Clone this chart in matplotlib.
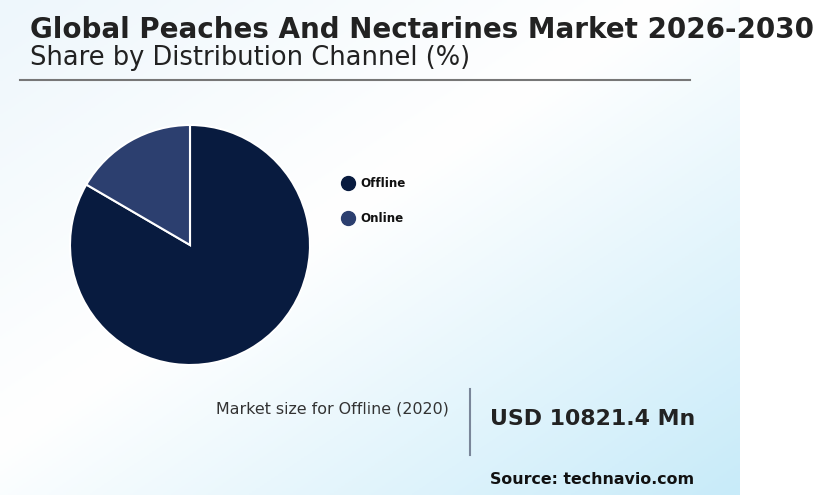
import matplotlib.pyplot as plt
import numpy as np
from matplotlib.colors import LinearSegmentedColormap

# data
channels = ["Offline", "Online"]
shares = [83.4, 16.6]
colors = ["#081b3f", "#2c3f6f"]
title = "Global Peaches And Nectarines Market 2026-2030"
subtitle = "Share by Distribution Channel (%)"
market_label = "Market size for Offline (2020)"
market_value = "USD 10821.4 Mn"
source = "Source: technavio.com"

W, H = 820, 498
fig = plt.figure(figsize=(W / 100, H / 100), dpi=100)
fig.patch.set_facecolor("white")

# gradient background panel
bg = fig.add_axes([0, 0, 1, 1])
bg.set_xlim(0, W)
bg.set_ylim(H, 0)
bg.axis("off")
xx, yy = np.meshgrid(np.linspace(0, 1, 200), np.linspace(0, 1, 200))
s = (xx + yy) / 2
cmap = LinearSegmentedColormap.from_list(
    "bg", [(0, "#eef7fc"), (0.45, "#ffffff"), (1, "#c8ebf9")])
bg.imshow(s, cmap=cmap, extent=[0, 740, 495, 0], aspect="auto", zorder=0)

# title block
bg.text(30, 30, title, fontsize=20, fontweight="bold", color="#222222", va="center")
bg.text(30, 58, subtitle, fontsize=18.5, color="#222222", va="center")
bg.plot([20, 690], [80, 80], color="#777777", lw=1.5)

# pie
cx, cy, r = 190, 245, 120
ax = fig.add_axes([(cx - r) / W, (H - cy - r) / H, 2 * r / W, 2 * r / H])
ax.pie(shares, colors=colors, startangle=90, counterclock=False,
       wedgeprops=dict(edgecolor="white", linewidth=1.5))
ax.set_aspect("equal")
ax.set_xlim(-1.0, 1.0)
ax.set_ylim(-1.0, 1.0)

# legend
for i, (name, c) in enumerate(zip(channels, colors)):
    y = 183 + i * 35
    bg.plot(348, y, "o", ms=10, color=c)
    bg.text(360, y, name, fontsize=8.6, fontweight="bold", color="#111111", va="center")

# market size block
bg.text(449, 409, market_label, fontsize=11.4, color="#333333", ha="right", va="center")
bg.plot([470, 470], [389, 455], color="#7a8699", lw=1.5)
bg.text(490, 419, market_value, fontsize=15.8, fontweight="bold", color="#222222", va="center")
bg.text(490, 479, source, fontsize=11.4, fontweight="bold", color="#111111", va="center")

fig.savefig("out.png", dpi=100)
